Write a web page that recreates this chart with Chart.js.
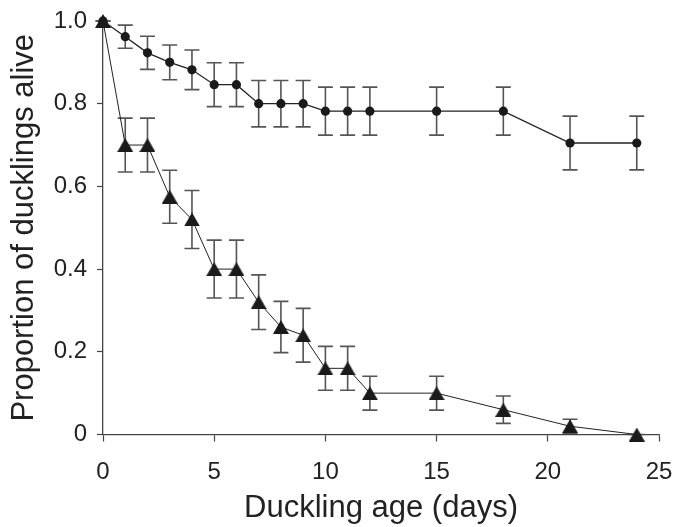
<!DOCTYPE html>
<html>
<head>
<meta charset="utf-8">
<script src="https://cdn.jsdelivr.net/npm/chart.js@4/dist/chart.umd.min.js"></script>
<style>
  html, body { margin: 0; padding: 0; background: #fff; }
  #chart { display: block; }
</style>
</head>
<body>
<canvas id="chart" width="675" height="527"></canvas>
<script>
const ageDays = [0, 1, 2, 3, 4, 5, 6, 7, 8, 9, 10, 11, 12, 15, 18, 21, 24];

// circles
const groupA = [1.0, 0.962, 0.923, 0.9, 0.882, 0.846, 0.846, 0.8, 0.8, 0.8, 0.782, 0.782, 0.782, 0.782, 0.782, 0.705, 0.705];
const groupAErr = [0, 0.028, 0.04, 0.042, 0.048, 0.053, 0.053, 0.056, 0.056, 0.056, 0.058, 0.058, 0.058, 0.058, 0.058, 0.065, 0.065];

// triangles
const groupB = [1.0, 0.70, 0.70, 0.575, 0.52, 0.40, 0.40, 0.32, 0.26, 0.24, 0.16, 0.16, 0.10, 0.10, 0.06, 0.02, 0];
const groupBErr = [0, 0.065, 0.065, 0.064, 0.07, 0.07, 0.07, 0.066, 0.062, 0.065, 0.053, 0.053, 0.041, 0.041, 0.033, 0.017, 0];

const xTicks = [0, 5, 10, 15, 20, 25];
const yTicks = [0, 0.2, 0.4, 0.6, 0.8, 1.0];

const FONT = '"Liberation Sans", Arial, Helvetica, sans-serif';
const INK = '#222';

function triangleMarker(w, h, color) {
  const c = document.createElement('canvas');
  c.width = w;
  c.height = h;
  const g = c.getContext('2d');
  g.fillStyle = color;
  g.beginPath();
  g.moveTo(w / 2, 0);
  g.lineTo(w, h);
  g.lineTo(0, h);
  g.closePath();
  g.fill();
  return c;
}

const errorBars = {
  id: 'errorBars',
  beforeDatasetsDraw(chart) {
    const { ctx, scales: { x, y } } = chart;
    ctx.save();
    ctx.strokeStyle = '#555';
    ctx.lineWidth = 1.6;
    chart.data.datasets.forEach(ds => {
      ds.data.forEach((p, i) => {
        const e = ds.errors[i];
        const px = x.getPixelForValue(p.x);
        const top = y.getPixelForValue(p.y + e);
        const bot = y.getPixelForValue(Math.max(p.y - e, 0));
        ctx.beginPath();
        ctx.moveTo(px, top); ctx.lineTo(px, bot);
        ctx.moveTo(px - 7.5, top); ctx.lineTo(px + 7.5, top);
        ctx.moveTo(px - 7.5, bot); ctx.lineTo(px + 7.5, bot);
        ctx.stroke();
      });
    });
    ctx.restore();
  }
};

const toPoints = vals => ageDays.map((d, i) => ({ x: d, y: vals[i] }));

new Chart(document.getElementById('chart').getContext('2d'), {
  type: 'line',
  data: {
    datasets: [
      {
        label: 'Group A',
        data: toPoints(groupA),
        errors: groupAErr,
        borderColor: INK,
        borderWidth: 1.3,
        pointStyle: 'circle',
        pointRadius: 4.6,
        pointBackgroundColor: '#1a1a1a',
        pointBorderWidth: 0,
        clip: false
      },
      {
        label: 'Group B',
        data: toPoints(groupB),
        errors: groupBErr,
        borderColor: INK,
        borderWidth: 1,
        pointStyle: triangleMarker(16, 14, '#1a1a1a'),
        pointRadius: 8,
        clip: false
      }
    ]
  },
  options: {
    responsive: false,
    animation: false,
    layout: { padding: { top: 21, right: 16, left: 0, bottom: 0 } },
    plugins: { legend: { display: false }, tooltip: { enabled: false } },
    scales: {
      x: {
        type: 'linear',
        min: 0,
        max: 25,
        afterFit: s => { s.height = 92.5; s.paddingLeft = 0; s.paddingRight = 0; },
        afterBuildTicks: s => { s.ticks = xTicks.map(v => ({ value: v })); },
        grid: { drawOnChartArea: false, tickLength: 7, color: '#444', tickWidth: 1.2 },
        border: { color: '#444', width: 1.3 },
        ticks: { color: INK, padding: 16, maxRotation: 0, font: { family: FONT, size: 24 } },
        title: {
          display: true,
          text: 'Duckling age (days)',
          color: INK,
          padding: { top: 0, bottom: 0 },
          font: { family: FONT, size: 31 }
        }
      },
      y: {
        min: 0,
        max: 1,
        afterFit: s => { s.width = 103; s.paddingTop = 0; s.paddingBottom = 0; },
        afterBuildTicks: s => { s.ticks = yTicks.map(v => ({ value: v })); },
        grid: { drawOnChartArea: false, tickLength: 6, color: '#444', tickWidth: 1.2 },
        border: { color: '#444', width: 1.3 },
        ticks: {
          color: INK,
          padding: 10,
          font: { family: FONT, size: 24 },
          callback: v => (v === 0 ? '0' : v.toFixed(1))
        },
        title: {
          display: true,
          text: 'Proportion of ducklings alive',
          color: INK,
          padding: { top: 6, bottom: 0 },
          font: { family: FONT, size: 31 }
        }
      }
    }
  },
  plugins: [errorBars]
});
</script>
</body>
</html>
